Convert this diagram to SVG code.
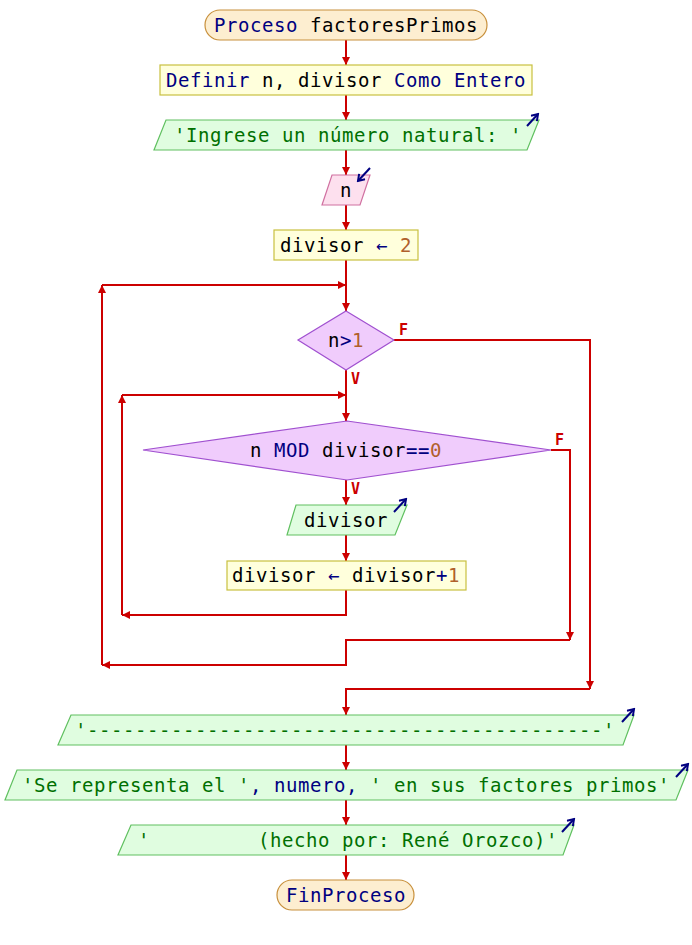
<svg xmlns="http://www.w3.org/2000/svg" width="692" height="945" viewBox="0 0 692 945">
<style>
  text { font-family: "DejaVu Sans Mono", "Liberation Mono", monospace; font-size: 19px; letter-spacing: 0.56px; text-anchor: middle; fill: #000; }
  .kw { fill: #000080; }
  .str { fill: #007000; }
  .num { fill: #b0602c; }
  .term { fill: #fdeed0; stroke: #c8903c; stroke-width: 1.2; }
  .proc { fill: #ffffdc; stroke: #c8c040; stroke-width: 1.2; }
  .out { fill: #e0fde0; stroke: #60c060; stroke-width: 1.2; }
  .inp { fill: #fde0ee; stroke: #d070a0; stroke-width: 1.2; }
  .dec { fill: #f0ccfc; stroke: #a050d0; stroke-width: 1.2; }
  .conn path { fill: none; stroke: #cc0000; stroke-width: 2; }
  .lbl { font-size: 15px; letter-spacing: 0; font-weight: bold; fill: #cc0000; text-anchor: start; }
  .io { fill: none; stroke: #000080; stroke-width: 2; }
</style>
<defs>
  <marker id="ah" markerUnits="userSpaceOnUse" markerWidth="10" markerHeight="10" refX="9" refY="5" orient="auto">
    <path d="M1,1 L9,5 L1,9 z" fill="#cc0000"/>
  </marker>
  <marker id="io" markerUnits="userSpaceOnUse" markerWidth="10" markerHeight="10" refX="8" refY="5" orient="auto">
    <path d="M2,1 L8,5 L2,9" fill="none" stroke="#000080" stroke-width="2"/>
  </marker>
</defs>

<g class="conn">
  <path d="M346,40 V65" marker-end="url(#ah)"/>
  <path d="M346,95 V120" marker-end="url(#ah)"/>
  <path d="M346,150 V175" marker-end="url(#ah)"/>
  <path d="M346,205 V230" marker-end="url(#ah)"/>
  <path d="M346,260 V311" marker-end="url(#ah)"/>
  <path d="M102,665 V285" marker-end="url(#ah)"/>
  <path d="M102,285 H346" marker-end="url(#ah)"/>
  <path d="M346,370 V421" marker-end="url(#ah)"/>
  <path d="M122,615 V395" marker-end="url(#ah)"/>
  <path d="M122,395 H346" marker-end="url(#ah)"/>
  <path d="M346,480 V505" marker-end="url(#ah)"/>
  <path d="M346,535 V561" marker-end="url(#ah)"/>
  <path d="M346,590 V615 H122" marker-end="url(#ah)"/>
  <path d="M551,450 H570 V640" marker-end="url(#ah)"/>
  <path d="M570,640 H346 V665 H102" marker-end="url(#ah)"/>
  <path d="M394,340 H590 V689" marker-end="url(#ah)"/>
  <path d="M590,689 H346 V715" marker-end="url(#ah)"/>
  <path d="M346,745 V770" marker-end="url(#ah)"/>
  <path d="M346,800 V825" marker-end="url(#ah)"/>
  <path d="M346,855 V880" marker-end="url(#ah)"/>
  <text class="lbl" x="399" y="335">F</text>
  <text class="lbl" x="351" y="384">V</text>
  <text class="lbl" x="555" y="445">F</text>
  <text class="lbl" x="351" y="494">V</text>
</g>

<g id="inicio">
  <rect class="term" x="205" y="10" width="282" height="30" rx="15"/>
  <text x="346" y="32"><tspan class="kw">Proceso</tspan> factoresPrimos</text>
</g>

<g id="definir">
  <rect class="proc" x="160" y="65" width="372" height="30"/>
  <text x="346" y="87"><tspan class="kw">Definir</tspan> n, divisor <tspan class="kw">Como Entero</tspan></text>
</g>

<g id="escribir1">
  <polygon class="out" points="166,120 539,120 527,150 154,150"/>
  <text class="str" x="348" y="142">'Ingrese un número natural: '</text>
  <path class="io" d="M527,126 L538,114" marker-end="url(#io)"/>
</g>

<g id="leer">
  <polygon class="inp" points="332,175 370,175 360,205 322,205"/>
  <text x="346" y="197">n</text>
  <path class="io" d="M370,168 L358,181" marker-end="url(#io)"/>
</g>

<g id="asig1">
  <rect class="proc" x="274" y="230" width="144" height="30"/>
  <text x="346" y="252">divisor <tspan class="kw">←</tspan> <tspan class="num">2</tspan></text>
</g>

<g id="mientras1">
  <polygon class="dec" points="346,311 394,340 346,370 298,340"/>
  <text x="346" y="347">n<tspan class="kw">&gt;</tspan><tspan class="num">1</tspan></text>
</g>

<g id="mientras2">
  <polygon class="dec" points="347,421 551,450 347,480 143,450"/>
  <text x="346" y="457">n <tspan class="kw">MOD</tspan> divisor<tspan class="kw">==</tspan><tspan class="num">0</tspan></text>
</g>

<g id="escribir2">
  <polygon class="out" points="296,505 407,505 395,535 287,535"/>
  <text x="346" y="527">divisor</text>
  <path class="io" d="M394,512 L406,499" marker-end="url(#io)"/>
</g>

<g id="asig2">
  <rect class="proc" x="227" y="561" width="239" height="29"/>
  <text x="346" y="582">divisor <tspan class="kw">←</tspan> divisor<tspan class="kw">+</tspan><tspan class="num">1</tspan></text>
</g>

<g id="escribir3">
  <polygon class="out" points="71,715 634,715 623,745 58,745"/>
  <text class="str" x="345" y="737">'-------------------------------------------'</text>
  <path class="io" d="M622,722 L634,709" marker-end="url(#io)"/>
</g>

<g id="escribir4">
  <polygon class="out" points="17,770 688,770 676,800 5,800"/>
  <text x="346" y="792"><tspan class="str">'Se representa el '</tspan><tspan class="kw">, numero, </tspan><tspan class="str">' en sus factores primos'</tspan></text>
  <path class="io" d="M676,777 L688,764" marker-end="url(#io)"/>
</g>

<g id="escribir5">
  <polygon class="out" points="131,825 574,825 563,855 118,855"/>
  <text class="str" x="348" y="847" xml:space="preserve">'         (hecho por: René Orozco)'</text>
  <path class="io" d="M562,832 L574,819" marker-end="url(#io)"/>
</g>

<g id="fin">
  <rect class="term" x="277" y="880" width="137" height="30" rx="15"/>
  <text class="kw" x="346" y="902">FinProceso</text>
</g>
</svg>
